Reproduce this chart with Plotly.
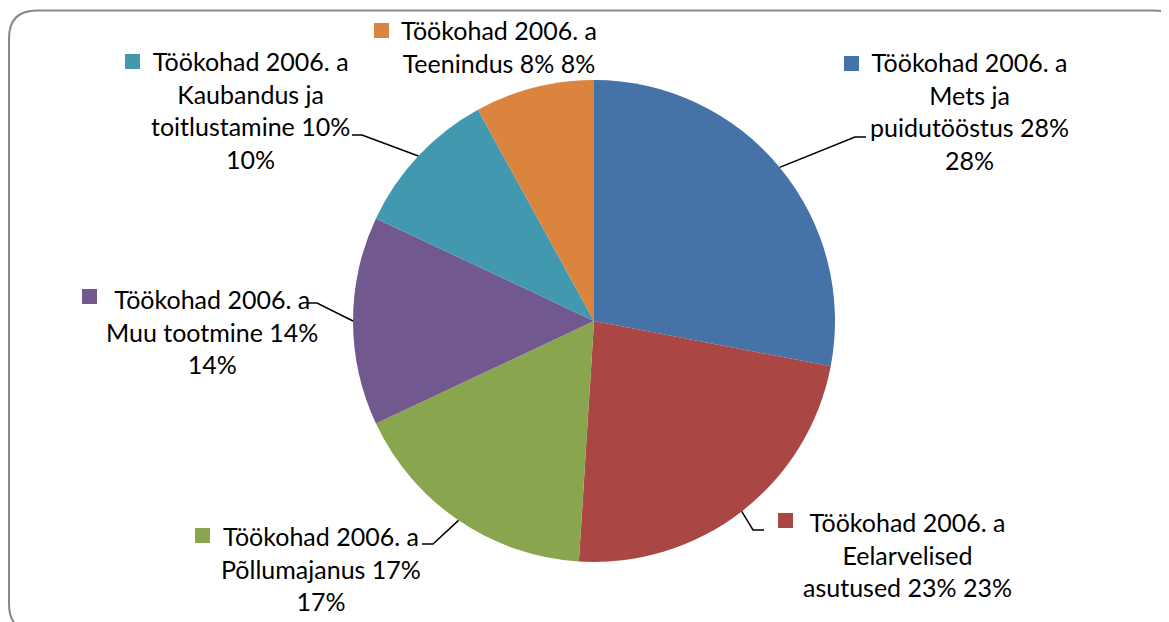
import math
import plotly.graph_objects as go

OFF = 8  # page body margin
W, H = 1169 - OFF, 622 - OFF

categories = ["Mets ja puidutööstus", "Eelarvelised asutused", "Põllumajanus",
              "Muu tootmine", "Kaubandus ja toitlustamine", "Teenindus"]
values = [28, 23, 17, 14, 10, 8]
colors = ["#4572A7", "#AA4643", "#89A54E", "#71588F", "#4198AF", "#DB843D"]
label_texts = [
    "Töökohad 2006. a<br>Mets ja<br>puidutööstus 28%<br>28%",
    "Töökohad 2006. a<br>Eelarvelised<br>asutused 23% 23%",
    "Töökohad 2006. a<br>Põllumajanus 17%<br>17%",
    "Töökohad 2006. a<br>Muu tootmine 14%<br>14%",
    "Töökohad 2006. a<br>Kaubandus ja<br>toitlustamine 10%<br>10%",
    "Töökohad 2006. a<br>Teenindus 8% 8%",
]

# layout (page pixels)
cx, cy, R = 594, 321, 241
label_pos = [(969, 111.5), (907, 554), (321, 568.5), (212, 331), (250, 110.5), (499, 46)]
square_pos = [(844, 56), (778, 513), (195, 528), (82, 289), (125, 54), (374, 23)]
# leader: (text-end x, text y, elbow x) ; None = no leader
leaders = [(866, 137, 855), (764, 530, 753), (422, 544, 433), (308, 303, 317), (352, 135, 362), None]


def px(x):
    return (x - OFF) / W


def py(y):
    return 1 - (y - OFF) / H


fig = go.Figure(go.Pie(
    labels=categories, values=values, sort=False, direction="clockwise", rotation=0,
    marker=dict(colors=colors, line=dict(width=0)),
    textinfo="none", hoverinfo="label+percent", showlegend=False,
    domain=dict(x=[px(cx - R), px(cx + R)], y=[py(cy + R), py(cy - R)]),
))

shapes = []
annotations = []
total = sum(values)
cum = 0
for i, v in enumerate(values):
    mid = (cum + v / 2) / total * 2 * math.pi
    cum += v
    ax = cx + R * math.sin(mid)
    ay = cy - R * math.cos(mid)
    lx, ly = label_pos[i]
    annotations.append(dict(
        x=px(lx), y=py(ly), xref="paper", yref="paper", xanchor="center", yanchor="middle",
        text=label_texts[i], showarrow=False, align="center",
        font=dict(family="Lato", size=25, color="#000000"),
    ))
    sx, sy = square_pos[i]
    shapes.append(dict(type="rect", xref="paper", yref="paper",
                       x0=px(sx), x1=px(sx + 15), y0=py(sy + 15), y1=py(sy),
                       fillcolor=colors[i], line=dict(width=0)))
    if leaders[i] is not None:
        tx, ty, ex = leaders[i]
        shapes.append(dict(type="path", xref="paper", yref="paper",
                           path=f"M {px(tx)},{py(ty)} L {px(ex)},{py(ty)} L {px(ax)},{py(ay)}",
                           line=dict(color="#000000", width=1.5)))

# rounded frame
x0, x1, y0, y1, r = 9, 1182, 10.5, 632, 28
frame = (f"M {px(x0 + r)},{py(y0)} L {px(x1 - r)},{py(y0)} "
         f"Q {px(x1)},{py(y0)} {px(x1)},{py(y0 + r)} L {px(x1)},{py(y1 - r)} "
         f"Q {px(x1)},{py(y1)} {px(x1 - r)},{py(y1)} L {px(x0 + r)},{py(y1)} "
         f"Q {px(x0)},{py(y1)} {px(x0)},{py(y1 - r)} L {px(x0)},{py(y0 + r)} "
         f"Q {px(x0)},{py(y0)} {px(x0 + r)},{py(y0)} Z")
shapes.insert(0, dict(type="path", xref="paper", yref="paper", path=frame,
                      line=dict(color="#878787", width=2), layer="below"))

fig.update_layout(
    width=W, height=H, margin=dict(l=0, r=0, t=0, b=0),
    paper_bgcolor="white", plot_bgcolor="white",
    shapes=shapes, annotations=annotations,
)
fig.write_html("out.html")
